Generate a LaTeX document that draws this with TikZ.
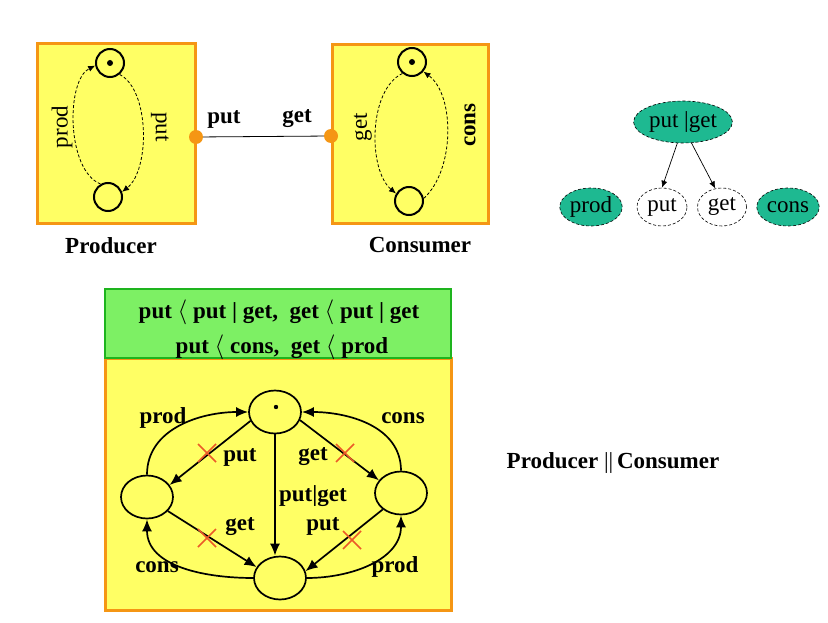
\documentclass[tikz,border=0pt]{standalone}
\usepackage{fontspec}
\setmainfont{Liberation Serif}
\usetikzlibrary{arrows.meta,shapes.geometric}
\definecolor{yfill}{RGB}{255,255,100}
\definecolor{oborder}{RGB}{245,150,20}
\definecolor{teal2}{RGB}{30,185,145}
\definecolor{gfill}{RGB}{125,240,100}
\definecolor{gborder}{RGB}{30,180,30}
\definecolor{redx}{RGB}{235,90,40}
\newcommand{\lang}{\ensuremath{\langle}}
\tikzset{
  txt/.style={font=\fontsize{23}{27}\selectfont, inner sep=0pt},
  btxt/.style={font=\fontsize{23}{27}\selectfont\bfseries, inner sep=0pt},
  ybox/.style={draw=oborder, fill=yfill, line width=3pt},
  smallstate/.style={circle, draw, line width=2pt, minimum size=28pt, inner sep=0pt},
  state/.style={ellipse, draw, line width=1.7pt, minimum width=52pt, minimum height=43pt, inner sep=0pt},
  tnode/.style={ellipse, draw, densely dashed, line width=0.6pt, inner sep=1pt, font=\fontsize{23}{27}\selectfont},
  port/.style={circle, fill=oborder, minimum size=14pt, inner sep=0pt},
  thinarc/.style={densely dashed, line width=0.8pt, -{Latex[length=7pt,width=6pt]}},
  trans/.style={line width=1.7pt, -{Latex[length=12pt,width=10pt]}},
  tarrow/.style={line width=0.7pt, -{Latex[length=7pt,width=6pt]}},
  xmark/.style={draw=redx, line width=1.6pt}
}
\begin{document}
\begin{tikzpicture}[x=1pt,y=-1pt]
\useasboundingbox[fill=white] (0,0) rectangle (828,623);

% ---------- Producer ----------
\draw[ybox] (37,44) rectangle (195,224);
\node[smallstate] (p1) at (110,63) {};
\fill (110,63) circle (3pt);
\node[smallstate] (p2) at (108,197) {};
\draw[thinarc] (p2.120) .. controls (66,170) and (66,80) .. (p1.190);
\draw[thinarc] (p1.-50) .. controls (150,90) and (150,170) .. (p2.20);
\node[txt, rotate=90] (lprod) at (62,127) {prod};
\node[txt, rotate=-90] (lput) at (160,127) {put};
\node[btxt] (producer) at (111,246) {Producer};

% ---------- Consumer ----------
\draw[ybox] (332,45) rectangle (488,224);
\node[smallstate] (c1) at (412,62) {};
\fill (412,62) circle (3pt);
\node[smallstate] (c2) at (409,201) {};
\draw[thinarc] (c1.230) .. controls (368,90) and (368,170) .. (c2.150);
\draw[thinarc] (c2.10) .. controls (455,170) and (455,95) .. (c1.-40);
\node[txt, rotate=90] (lget) at (363,127) {get};
\node[btxt, rotate=90] (lcons) at (470,125) {cons};
\node[btxt] (consumer) at (420,245) {Consumer};

% ports
\node[port] (pp) at (196,137) {};
\node[port] (cp) at (331,136) {};
\draw[line width=0.8pt] (pp) -- (cp);
\node[btxt] (lput2) at (224,119) {put};
\node[btxt] (lget2) at (297,119) {get};

% ---------- Tree ----------
\node[tnode, fill=teal2, minimum width=95pt, minimum height=42pt] (root) at (683,122) {put |get};
\node[tnode, fill=teal2, minimum width=53pt, minimum height=38pt] (tprod) at (591,207) {prod};
\node[tnode, fill=white, minimum width=50pt, minimum height=38pt] (tput) at (662,207) {put};
\node[tnode, fill=white, minimum width=49pt, minimum height=38pt] (tget) at (722,207) {get};
\node[tnode, fill=teal2, minimum width=50pt, minimum height=38pt] (tcons) at (788,207) {cons};
\draw[tarrow] (root.255) -- (tput.north);
\draw[tarrow] (root.292) -- (tget.110);

% ---------- Composition ----------
\draw[ybox] (105,358) rectangle (451,610);
\draw[draw=gborder, fill=gfill, line width=2.5pt] (105,289) rectangle (451,358);
\node[btxt] (rule1) at (279,312) {put \lang{} put | get,\hspace{0.5em}get \lang{} put | get};
\node[btxt] (rule2) at (282,347) {put \lang{} cons,\hspace{0.5em}get \lang{} prod};

\node[state] (T) at (275,412) {};
\fill (276,407) circle (2.2pt);
\node[state] (L) at (147,497) {};
\node[state] (R) at (401,493) {};
\node[state] (B) at (280,578) {};

\draw[trans] (T.200) -- (L.28);
\draw[trans] (L.-34) -- (B.155);
\draw[trans] (T.-18) -- (R.150);
\draw[trans] (R.222) -- (B.15);
\draw[trans] (T.south) -- (T.south |- B.north);
\draw[trans] (L.north) to[out=90,in=180] (T.west);
\draw[trans] (R.north) to[out=90,in=0] (T.east);
\draw[trans] (B.west) to[out=180,in=270] (L.south);
\draw[trans] (B.east) to[out=0,in=270] (R.south);

\node[btxt] (e1) at (163,418) {prod};
\node[btxt] (e2) at (240,457) {put};
\node[btxt] (e3) at (313,457) {get};
\node[btxt] (e4) at (403,418) {cons};
\node[btxt] (e5) at (313,496) {put|get};
\node[btxt] (e6) at (240,527) {get};
\node[btxt] (e7) at (323,526) {put};
\node[btxt] (e8) at (157,567) {cons};
\node[btxt] (e9) at (395,567) {prod};

\foreach \cx/\cy in {207/453, 345/453, 207/538, 352/540}{
  \draw[xmark] (\cx-9,\cy-9) -- (\cx+9,\cy+9) (\cx-9,\cy+9) -- (\cx+9,\cy-9);
}

\node[btxt] (pc) at (613,463) {Producer {\mdseries\textbar\textbar}\,Consumer};
\end{tikzpicture}
\end{document}
